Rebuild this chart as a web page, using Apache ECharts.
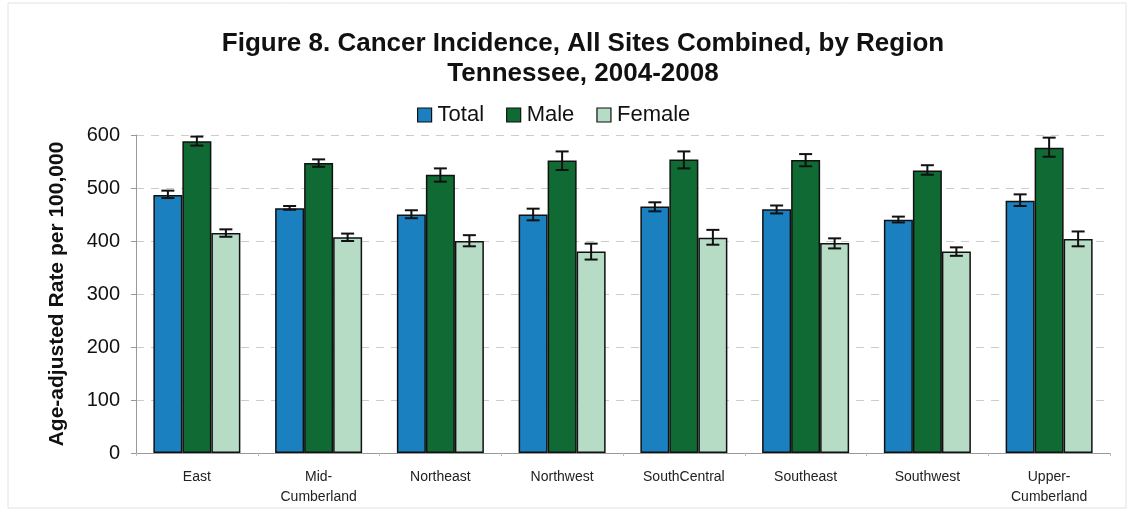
<!DOCTYPE html>
<html><head><meta charset="utf-8">
<script src="https://cdn.jsdelivr.net/npm/echarts@6/dist/echarts.min.js"></script>
<style>html,body{margin:0;padding:0;background:#fff}#c{width:1135px;height:512px}</style>
</head><body><div id="c"></div>
<script>
const categories = ['East','Mid-\nCumberland','Northeast','Northwest','SouthCentral','Southeast','Southwest','Upper-\nCumberland'];
const seriesNames = ['Total','Male','Female'];
const totalValues  = [487, 462, 450, 450, 465, 460, 440, 476];
const totalLow     = [481, 459, 443, 439, 456, 452, 435, 466];
const totalHigh    = [495, 466, 458, 461, 473, 467, 446, 488];
const maleValues   = [588, 547, 525, 552, 554, 553, 533, 576];
const maleLow      = [580, 540, 512, 534, 537, 541, 525, 559];
const maleHigh     = [597, 554, 537, 569, 569, 564, 543, 595];
const femaleValues = [415, 407, 400, 380, 406, 396, 380, 404];
const femaleLow    = [408, 400, 390, 365, 393, 386, 372, 390];
const femaleHigh   = [422, 414, 411, 395, 421, 405, 388, 418];
const yTicks = [0, 100, 200, 300, 400, 500, 600];

const colors = ['#1a80c0', '#0f6a33', '#b6dcc5'];
const barW = 29;
const offsets = [-barW, 0, barW];

function errSeries(idx, low, high) {
  return {
    type: 'custom', name: seriesNames[idx] + ' CI', z: 10, silent: true,
    data: low.map((l, i) => [i, l, high[i]]),
    encode: { x: 0, y: [1, 2] },
    renderItem: function (params, api) {
      const x = api.coord([api.value(0), 0])[0] + offsets[idx];
      const lo = api.coord([api.value(0), api.value(1)])[1];
      const hi = api.coord([api.value(0), api.value(2)])[1];
      const cap = 6.5;
      const st = { stroke: '#111', lineWidth: 2 };
      return { type: 'group', children: [
        { type: 'line', shape: { x1: x, y1: lo, x2: x, y2: hi }, style: st },
        { type: 'line', shape: { x1: x - cap, y1: lo, x2: x + cap, y2: lo }, style: st },
        { type: 'line', shape: { x1: x - cap, y1: hi, x2: x + cap, y2: hi }, style: st }
      ]};
    }
  };
}

const chart = echarts.init(document.getElementById('c'));
chart.setOption({
  animation: false,
  backgroundColor: '#fff',
  textStyle: { fontFamily: 'Liberation Sans, Arial, sans-serif' },
  title: {
    text: 'Figure 8. Cancer Incidence, All Sites Combined, by Region\nTennessee, 2004-2008',
    left: 578, top: 24, textAlign: 'center',
    textStyle: { fontSize: 26, fontWeight: 'bold', color: '#111', lineHeight: 30, fontFamily: 'Liberation Sans, Arial, sans-serif' }
  },
  legend: {
    data: seriesNames, left: 412, top: 99, itemWidth: 14, itemHeight: 14, itemGap: 22,
    icon: 'rect',
    textStyle: { fontSize: 22, color: '#111', padding: [0, 0, 0, 1] },
    itemStyle: { borderColor: '#111', borderWidth: 1.2 }
  },
  grid: { left: 136, right: 25, top: 135, bottom: 59 },
  xAxis: {
    type: 'category', data: categories,
    axisLine: { lineStyle: { color: '#999', width: 1 } },
    axisTick: { show: true, alignWithLabel: false, lineStyle: { color: '#bbb' }, length: 3 },
    axisLabel: { fontSize: 14, color: '#222', margin: 14, lineHeight: 20, interval: 0 }
  },
  yAxis: {
    type: 'value', min: 0, max: 600, interval: 100,
    name: 'Age-adjusted Rate per 100,000', nameLocation: 'middle', nameGap: 68,
    nameTextStyle: { fontSize: 21, fontWeight: 'bold', color: '#111' },
    axisLine: { show: true, lineStyle: { color: '#999' } },
    axisTick: { show: true, length: 5, lineStyle: { color: '#999' } },
    axisLabel: { fontSize: 20, color: '#111', margin: 16 },
    splitLine: { lineStyle: { type: [8, 7], color: '#ccc', width: 1 } }
  },
  series: [
    { name: 'Total', type: 'bar', data: totalValues, barWidth: barW, barGap: '0%',
      itemStyle: { color: colors[0], borderColor: '#111', borderWidth: 1.5 } },
    { name: 'Male', type: 'bar', data: maleValues, barWidth: barW, barGap: '0%',
      itemStyle: { color: colors[1], borderColor: '#111', borderWidth: 1.5 } },
    { name: 'Female', type: 'bar', data: femaleValues, barWidth: barW, barGap: '0%',
      itemStyle: { color: colors[2], borderColor: '#111', borderWidth: 1.5 } },
    errSeries(0, totalLow, totalHigh),
    errSeries(1, maleLow, maleHigh),
    errSeries(2, femaleLow, femaleHigh)
  ],
  graphic: [{ type: 'rect', shape: { x: 8, y: 3, width: 1118, height: 505 }, style: { fill: 'none', stroke: '#e2e2e2', lineWidth: 1 }, silent: true }]
});
</script></body></html>
